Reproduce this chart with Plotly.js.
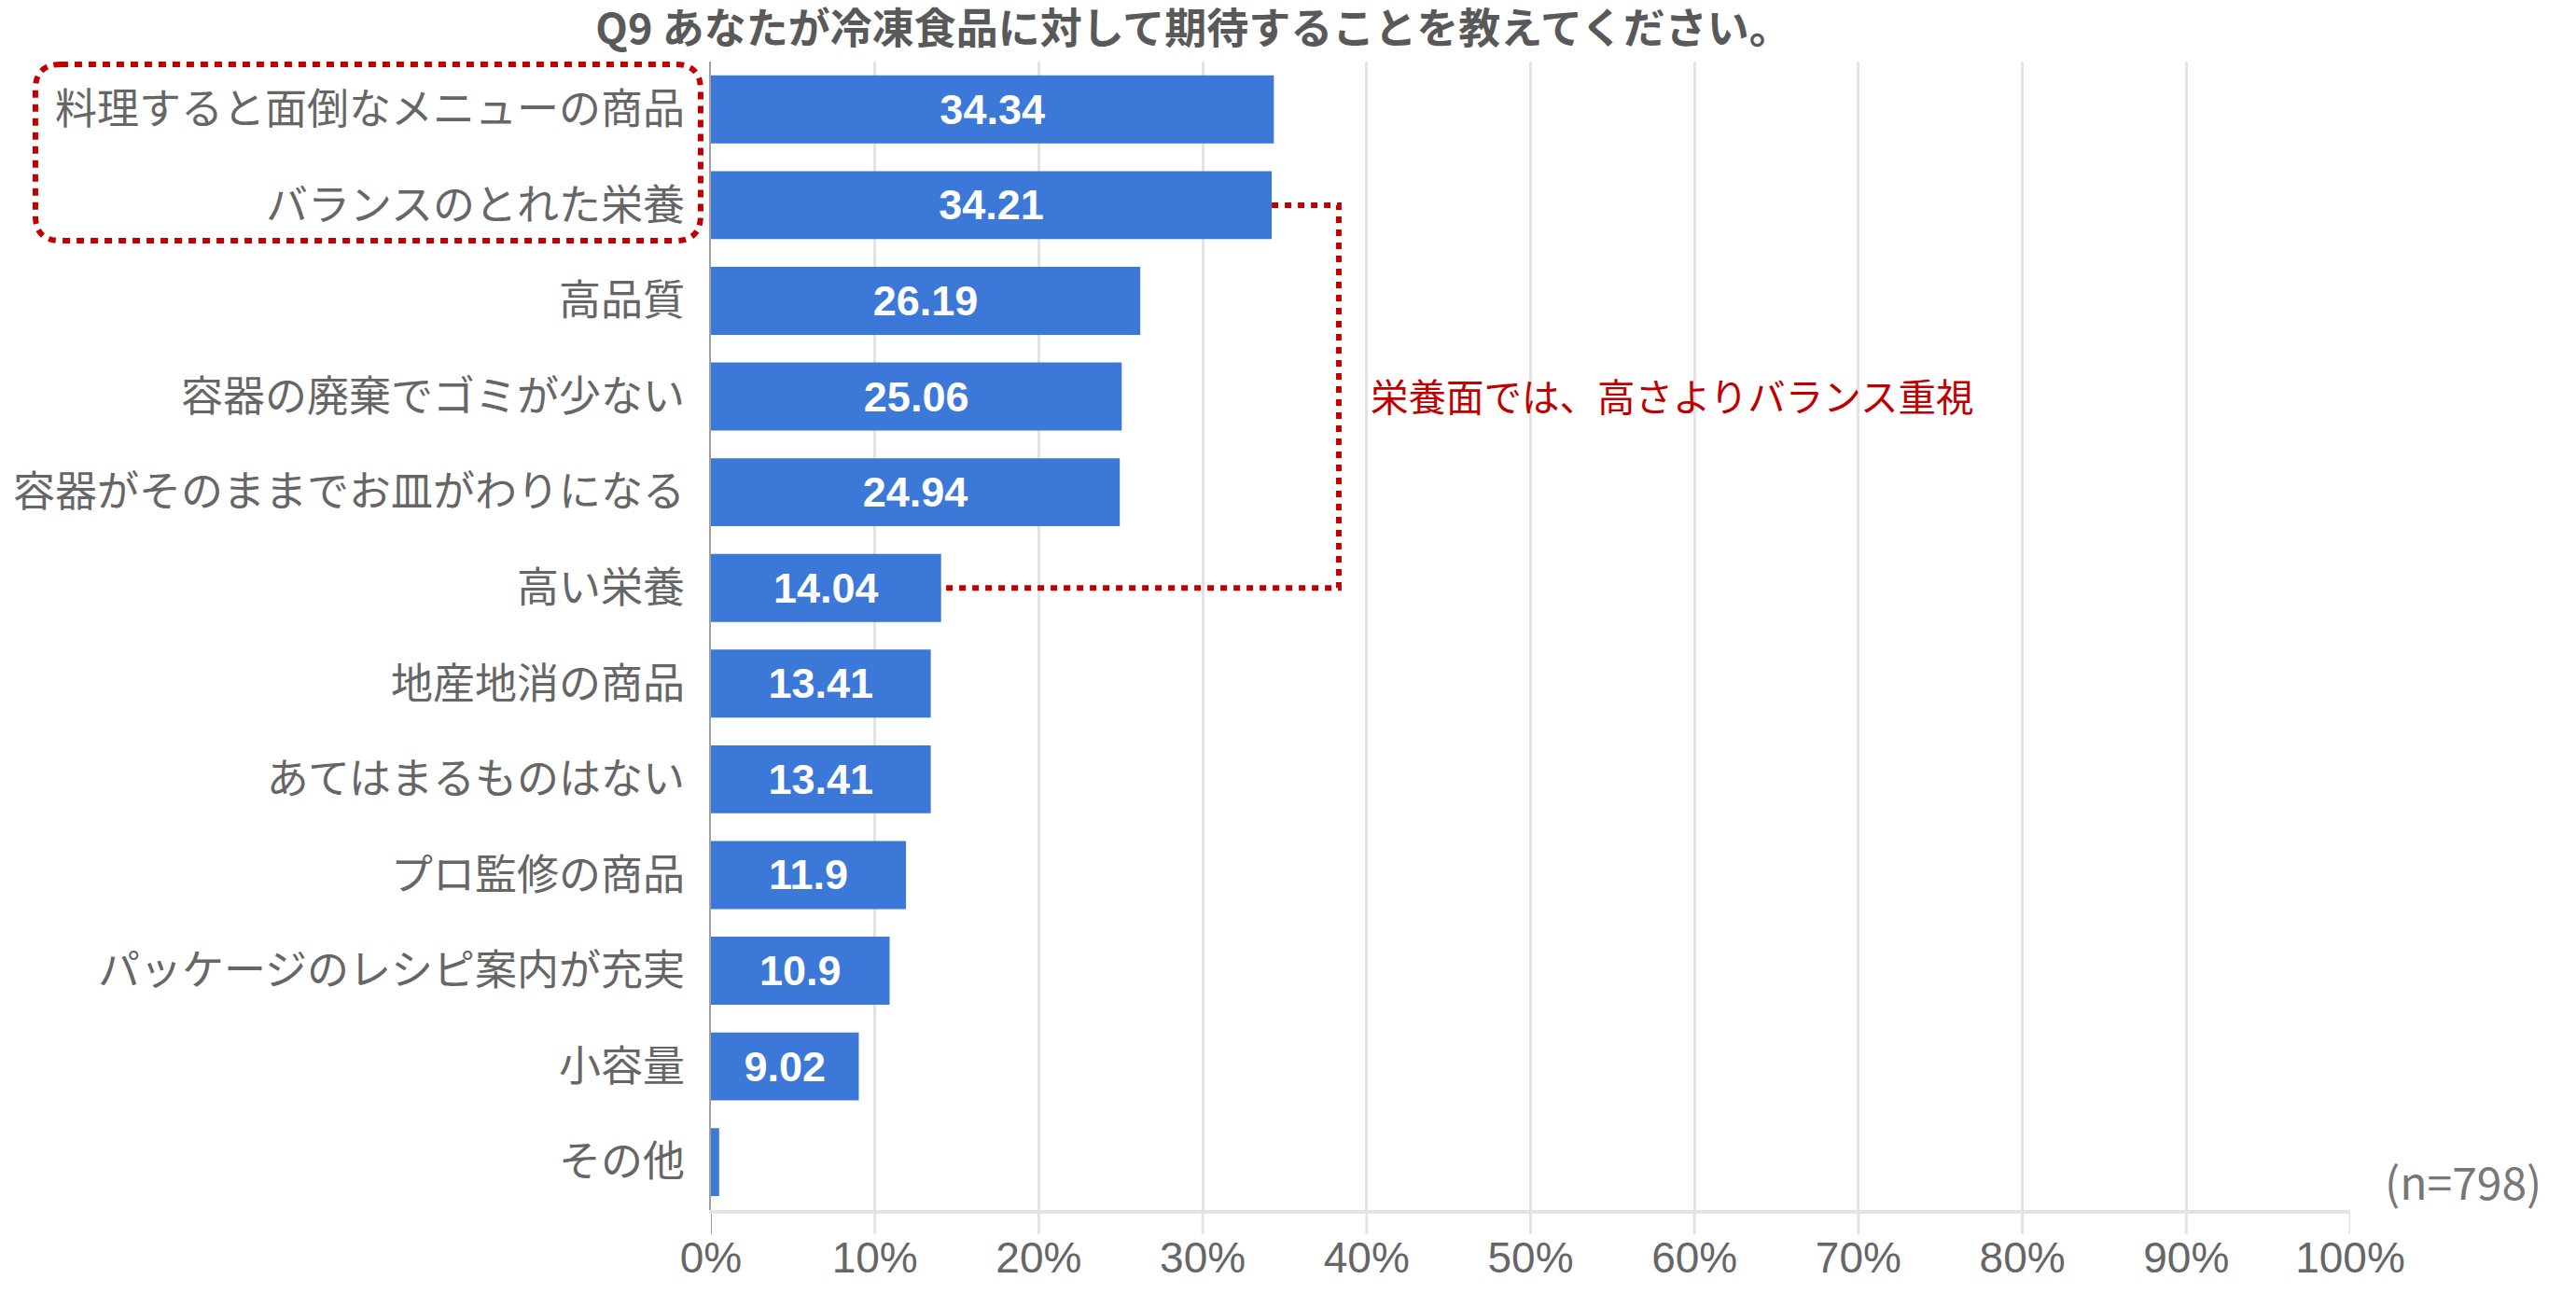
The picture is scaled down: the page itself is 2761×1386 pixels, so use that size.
<!DOCTYPE html>
<html>
<head>
<meta charset="utf-8">
<script src="https://cdn.plot.ly/plotly-3.0.1.min.js"></script>
<style>html,body{margin:0;padding:0;background:#fff;}#chart{width:2761px;height:1386px;}</style>
</head>
<body>
<div id="chart"></div>
<script>
const categories = [
  "料理すると面倒なメニューの商品",
  "バランスのとれた栄養",
  "高品質",
  "容器の廃棄でゴミが少ない",
  "容器がそのままでお皿がわりになる",
  "高い栄養",
  "地産地消の商品",
  "あてはまるものはない",
  "プロ監修の商品",
  "パッケージのレシピ案内が充実",
  "小容量",
  "その他"
];
const values = [34.34, 34.21, 26.19, 25.06, 24.94, 14.04, 13.41, 13.41, 11.9, 10.9, 9.02, 0.5];
const tickValues = [0, 10, 20, 30, 40, 50, 60, 70, 80, 90, 100];
const tickLabels = ["0%", "10%", "20%", "30%", "40%", "50%", "60%", "70%", "80%", "90%", "100%"];
const titleText = "Q9 あなたが冷凍食品に対して期待することを教えてください。";
const noteText = "栄養面では、高さよりバランス重視";
const sampleText = "(n=798)";
const bracketX = 38.3;

const JP = "'Noto Sans CJK JP', 'Liberation Sans', sans-serif";
const LAT = "'Liberation Sans', Arial, 'Noto Sans CJK JP', sans-serif";

const trace = {
  type: 'bar',
  orientation: 'h',
  y: categories,
  x: values,
  text: values.map(v => String(v)),
  textposition: 'inside',
  insidetextanchor: 'middle',
  textangle: 0,
  textfont: {family: LAT, size: 45, color: '#ffffff', weight: 'bold'},
  marker: {color: '#3c78d8', line: {width: 0}},
  hoverinfo: 'none',
  cliponaxis: false
};

const r = 27;
const bx0 = -0.4121, bx1 = -0.0063, byT = 0.9976, byB = 0.8440;
const rx = r / 1757, ry = r / 1231;
const boxPath = `M ${bx0 + rx},${byT} L ${bx1 - rx},${byT} Q ${bx1},${byT} ${bx1},${byT - ry} ` +
  `L ${bx1},${byB + ry} Q ${bx1},${byB} ${bx1 - rx},${byB} L ${bx0 + rx},${byB} ` +
  `Q ${bx0},${byB} ${bx0},${byB + ry} L ${bx0},${byT - ry} Q ${bx0},${byT} ${bx0 + rx},${byT} Z`;

const tickExt = -26 / 1231;
const tickShapes = tickValues.map(v => ({
  type: 'line', xref: 'x', yref: 'paper',
  x0: v, x1: v, y0: 0, y1: tickExt,
  line: {color: v === 0 ? '#a0a0a0' : '#e3e3e3', width: v === 0 ? 2 : 3},
  layer: 'below'
}));

const layout = {
  width: 2761,
  height: 1386,
  paper_bgcolor: '#ffffff',
  plot_bgcolor: '#ffffff',
  margin: {l: 762, r: 242, t: 66, b: 89, pad: 0},
  showlegend: false,
  bargap: 0.29,
  uniformtext: {mode: 'hide', minsize: 40},
  title: {
    text: '<b>' + titleText + '</b>',
    x: 1279 / 2761, xanchor: 'center', xref: 'container',
    y: 1 - 31 / 1386, yanchor: 'middle', yref: 'container',
    font: {family: JP, size: 45, color: '#595959'}
  },
  xaxis: {
    range: [0, 100],
    tickvals: tickValues,
    ticktext: tickLabels,
    showgrid: true,
    gridcolor: '#e3e3e3',
    gridwidth: 3,
    zeroline: false,
    showline: true,
    linecolor: '#e3e3e3',
    linewidth: 4,
    ticks: '',
    ticklabelstandoff: 8,
    tickfont: {family: LAT, size: 46, color: '#666666'},
    fixedrange: true
  },
  yaxis: {
    type: 'category',
    categoryorder: 'array',
    categoryarray: categories,
    autorange: 'reversed',
    showgrid: false,
    zeroline: false,
    showline: true,
    linecolor: '#a0a0a0',
    linewidth: 2,
    ticks: '',
    ticklabelstandoff: 17,
    tickfont: {family: JP, size: 45, color: '#666666'},
    fixedrange: true
  },
  shapes: [
    {
      type: 'path', xref: 'x', yref: 'y',
      path: `M ${values[1]},1 H ${bracketX} V 5 H ${values[5]}`,
      line: {color: '#c00000', width: 6, dash: '7px,7px'},
      fillcolor: 'rgba(0,0,0,0)'
    },
    {
      type: 'path', xref: 'paper', yref: 'paper',
      path: boxPath,
      line: {color: '#c00000', width: 6, dash: '8px,7px'},
      fillcolor: 'rgba(0,0,0,0)'
    }
  ].concat(tickShapes),
  annotations: [
    {
      text: noteText, xref: 'paper', yref: 'paper',
      x: (1467 - 762) / 1757, y: (1297 - 423) / 1231,
      xanchor: 'left', yanchor: 'middle', showarrow: false,
      font: {family: JP, size: 40.5, color: '#c00000'}
    },
    {
      text: sampleText, xref: 'paper', yref: 'paper',
      x: (2726 - 762) / 1757, y: (1297 - 1265) / 1231,
      xanchor: 'right', yanchor: 'middle', showarrow: false,
      font: {family: JP, size: 48, color: '#777777'}
    }
  ]
};

Plotly.newPlot('chart', [trace], layout, {displayModeBar: false, staticPlot: true});
</script>
</body>
</html>
